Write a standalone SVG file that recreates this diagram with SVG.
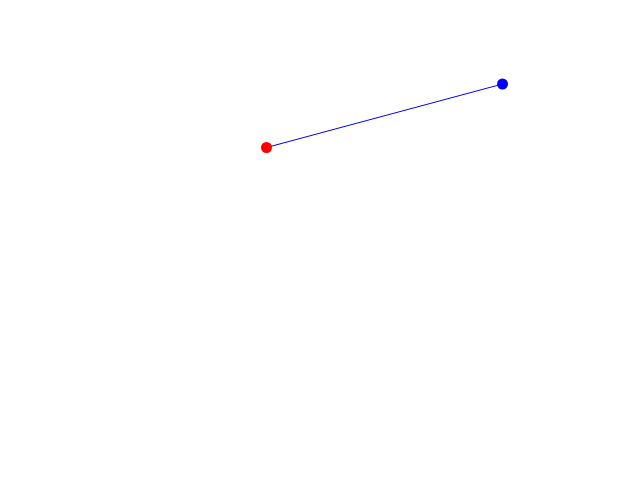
<svg xmlns="http://www.w3.org/2000/svg" width="640" height="480" viewBox="0 0 640 480">
<style>.dot{stroke:none}</style>
<rect width="640" height="480" fill="#fff"/>
<g id="connectors"><line x1="266.5" y1="147.5" x2="502.5" y2="84" stroke="#0000ff" stroke-width="1"/></g>
<g id="nodeA"><circle class="dot" cx="266.5" cy="147.5" r="5.5" fill="#ff0000"/></g>
<g id="nodeB"><circle class="dot" cx="502.5" cy="84" r="5.5" fill="#0000ff"/></g>
</svg>
